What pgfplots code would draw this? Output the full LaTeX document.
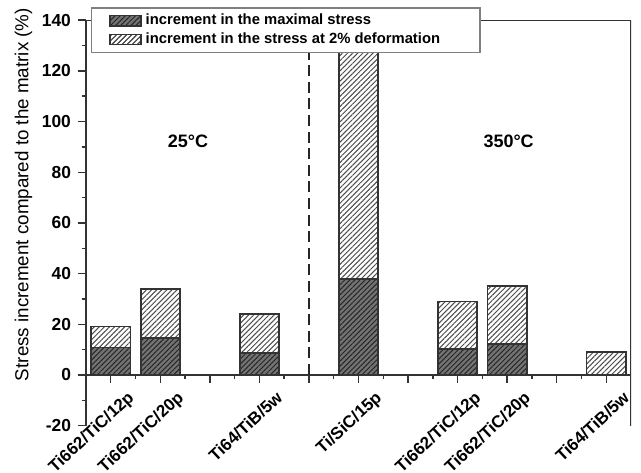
\documentclass[border=0pt]{standalone}
\usepackage{fontspec}
\setmainfont{Liberation Sans}
\usepackage{pgfplots}
\pgfplotsset{compat=1.18}
\usetikzlibrary{patterns.meta}
\begin{document}
\begin{tikzpicture}
\begin{axis}[
  name=ax, at={(0,0)}, anchor=south west,
  scale only axis, width=272.5pt, height=202.8pt,
  xmin=0.5, xmax=11.5, ymin=-20, ymax=140,
  axis x line=middle, axis y line=left,
  axis line style={-, draw=black!80, line width=0.7pt},
  xtick={1,...,11}, minor x tick num=1,
  xticklabels={Ti662/TiC/12p, Ti662/TiC/20p, , Ti64/TiB/5w, , Ti/SiC/15p, , Ti662/TiC/12p, Ti662/TiC/20p, , Ti64/TiB/5w},
  x tick label style={xshift=8pt, yshift=1.5pt, rotate=43, anchor=north east, font=\bfseries\fontsize{8.5}{10}\selectfont},
  ytick={-20,0,20,...,140}, minor y tick num=1,
  y tick label style={font=\bfseries\fontsize{8.7}{10}\selectfont},
  /pgf/number format/assume math mode=true,
  tick align=outside, major tick length=4pt, minor tick length=2pt,
  tick style={draw=black!80, line width=0.7pt},
  ylabel={Stress increment compared to the matrix (\%)},
  ylabel style={at={(axis description cs:-0.1147,0.57)}, anchor=center, font=\fontsize{9.4}{11}\selectfont},
  legend style={at={(axis description cs:0,1)}, anchor=north west, xshift=2.35pt, yshift=6.5pt,
    draw=black!50, line width=0.8pt, fill=white, inner xsep=9pt, inner ysep=2pt, row sep=0.6pt,
    nodes={inner ysep=1pt},
    font=\bfseries\fontsize{7.4}{8}\selectfont},
  legend cell align=left,
  reverse legend,
]
\addplot[sharp plot, dashed, dash pattern=on 5.5pt off 2.8pt, line width=1pt, black!85, forget plot]
  coordinates {(5,0) (5,140)};
\addplot[ybar, bar width=19.6pt, bar shift=0pt, draw=black!80, line width=0.8pt, fill=white,
  postaction={pattern={Lines[angle=45, distance=1.8pt, line width=0.5pt]}, pattern color=black!70},
  legend image code/.code={\draw[draw=black!80, line width=0.6pt, fill=white,
    postaction={pattern={Lines[angle=45, distance=1.8pt, line width=0.5pt]}, pattern color=black!70}]
    (0pt,-2.6pt) rectangle (15.5pt,2.6pt);}]
  coordinates {(1,19.1) (2,33.9) (4,24) (6,127.3) (8,29) (9,35) (11,9)};
\addlegendentry{increment in the stress at 2\% deformation\hspace*{9pt}\mbox{}}
\addplot[ybar, bar width=19.6pt, bar shift=0pt, draw=black!80, line width=0.8pt, fill=black!55,
  postaction={pattern={Lines[angle=45, distance=1.8pt, line width=0.5pt]}, pattern color=black!85},
  legend image code/.code={\draw[draw=black!80, line width=0.6pt, fill=black!55]
    (0pt,-2.6pt) rectangle (15.5pt,2.6pt);}]
  coordinates {(1,10.9) (2,14.7) (4,8.7) (6,37.8) (8,10.3) (9,12.2)};
\addlegendentry{increment in the maximal stress}
\draw[draw=black!80, line width=0.7pt] (rel axis cs:0,1) -- (rel axis cs:1,1) -- (rel axis cs:1,0);
\node[font=\bfseries\fontsize{9}{11}\selectfont] at (axis cs:2.56,92.2) {25°C};
\node[font=\bfseries\fontsize{9}{11}\selectfont] at (axis cs:9.03,92.2) {350°C};
\end{axis}
\pgfresetboundingbox
\path (-43pt,-23.15pt) rectangle (277.5pt,212.85pt);
\end{tikzpicture}
\end{document}
